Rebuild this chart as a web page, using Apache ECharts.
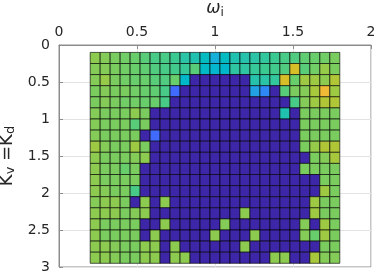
<!DOCTYPE html>
<html><head><meta charset="utf-8">
<script src="https://cdn.jsdelivr.net/npm/echarts@6/dist/echarts.min.js"></script>
<style>html,body{margin:0;padding:0;background:#fff}#c{width:374px;height:274px}</style>
</head><body><div id="c"></div>
<script>
// cell centres
const omega = [0.232,0.296,0.36,0.424,0.488,0.552,0.616,0.68,0.744,0.808,0.872,0.936,1.0,1.064,1.128,1.192,1.256,1.32,1.384,1.448,1.512,1.576,1.64,1.704,1.768];
const kv = [0.175,0.325,0.475,0.625,0.775,0.925,1.075,1.225,1.375,1.525,1.675,1.825,1.975,2.125,2.275,2.425,2.575,2.725,2.875];
const xTicks = ['0','0.5','1','1.5','2'];
const yTicks = ['0','0.5','1','1.5','2','2.5','3'];
// values per row (kv), per column (omega); 0 = dark
const values = [
 [0.68,0.67,0.66,0.65,0.64,0.62,0.60,0.60,0.58,0.54,0.52,0.48,0.42,0.48,0.52,0.53,0.54,0.56,0.58,0.60,0.61,0.63,0.64,0.65,0.66],
 [0.67,0.67,0.66,0.65,0.64,0.63,0.61,0.60,0.59,0.57,0.62,0.47,0.45,0.46,0.55,0.55,0.57,0.58,0.59,0.61,0.77,0.62,0.65,0.69,0.66],
 [0.67,0.69,0.66,0.65,0.64,0.64,0.62,0.61,0.64,0.46,0,0,0,0,0,0,0.53,0.54,0.56,0.77,0.64,0.70,0.70,0.68,0.72],
 [0.66,0.67,0.66,0.66,0.65,0.64,0.63,0.60,0.21,0,0,0,0,0,0,0,0.37,0.29,0,0.62,0.66,0.67,0.71,0.81,0.70],
 [0.66,0.67,0.66,0.65,0.65,0.64,0.64,0.60,0,0,0,0,0,0,0,0,0,0,0,0,0.60,0.67,0.70,0.72,0.72],
 [0.67,0.66,0.66,0.66,0.68,0.66,0,0,0,0,0,0,0,0,0,0,0,0,0,0.52,0,0.66,0.66,0.66,0.66],
 [0.67,0.66,0.66,0.66,0.62,0.66,0,0,0,0,0,0,0,0,0,0,0,0,0,0,0,0.66,0.66,0.66,0.66],
 [0.67,0.66,0.66,0.66,0.66,0,0.21,0,0,0,0,0,0,0,0,0,0,0,0,0,0,0.66,0.66,0.66,0.66],
 [0.70,0.67,0.66,0.66,0.70,0.66,0,0,0,0,0,0,0,0,0,0,0,0,0,0,0,0.66,0.69,0.72,0.72],
 [0.68,0.66,0.66,0.66,0.67,0.68,0,0,0,0,0,0,0,0,0,0,0,0,0,0,0,0,0.66,0.67,0.71],
 [0.68,0.66,0.66,0.64,0.66,0,0,0,0,0,0,0,0,0,0,0,0,0,0,0,0,0.66,0.66,0.66,0.66],
 [0.68,0.66,0.66,0.66,0.66,0,0,0,0,0,0,0,0,0,0,0,0,0,0,0,0,0,0,0.66,0.66],
 [0.68,0.67,0.66,0.66,0.60,0,0,0,0,0,0,0,0,0,0,0,0,0,0,0,0,0,0,0.70,0.66],
 [0.67,0.68,0.68,0.66,0,0.68,0,0.68,0,0,0,0,0,0,0,0,0,0,0,0,0,0,0.70,0.66,0.66],
 [0.68,0.68,0.68,0.66,0.67,0.68,0,0,0,0,0,0,0,0,0,0.68,0,0,0,0,0,0,0.70,0.66,0.66],
 [0.68,0.66,0.66,0.66,0.66,0,0,0.68,0,0,0,0,0,0.67,0,0,0,0,0,0,0,0.67,0,0.70,0.66],
 [0.68,0.66,0.66,0.66,0.66,0,0.68,0,0,0,0,0,0.68,0,0,0,0.68,0,0,0,0,0.67,0.64,0.70,0.66],
 [0.68,0.68,0.67,0.66,0.66,0.68,0.68,0,0.68,0,0,0,0,0,0,0.68,0,0,0,0,0,0,0,0.66,0.66],
 [0.68,0.68,0.67,0.66,0.66,0.68,0.68,0,0.68,0.68,0,0,0,0,0,0,0,0,0.68,0.68,0,0,0.71,0.67,0.67]
];
const parula = [[0.2422,0.1504,0.6603],[0.2504,0.1650,0.7076],[0.2578,0.1818,0.7511],[0.2647,0.1978,0.7952],[0.2706,0.2147,0.8364],[0.2751,0.2342,0.8710],[0.2783,0.2559,0.8991],[0.2803,0.2782,0.9221],[0.2813,0.3006,0.9414],[0.2810,0.3228,0.9579],[0.2795,0.3447,0.9717],[0.2760,0.3667,0.9829],[0.2699,0.3892,0.9906],[0.2602,0.4123,0.9952],[0.2440,0.4358,0.9988],[0.2206,0.4603,0.9973],[0.1963,0.4847,0.9892],[0.1834,0.5074,0.9798],[0.1786,0.5289,0.9682],[0.1764,0.5499,0.9520],[0.1687,0.5703,0.9359],[0.1540,0.5902,0.9218],[0.1460,0.6091,0.9079],[0.1380,0.6276,0.8973],[0.1248,0.6459,0.8883],[0.1113,0.6635,0.8763],[0.0952,0.6798,0.8598],[0.0689,0.6948,0.8394],[0.0297,0.7082,0.8163],[0.0036,0.7203,0.7917],[0.0067,0.7312,0.7660],[0.0433,0.7411,0.7394],[0.0964,0.7500,0.7120],[0.1408,0.7584,0.6842],[0.1717,0.7670,0.6554],[0.1938,0.7758,0.6251],[0.2161,0.7843,0.5923],[0.2470,0.7918,0.5567],[0.2906,0.7973,0.5188],[0.3406,0.8008,0.4789],[0.3909,0.8029,0.4354],[0.4456,0.8024,0.3909],[0.5044,0.7993,0.3480],[0.5616,0.7942,0.3045],[0.6174,0.7876,0.2612],[0.6720,0.7793,0.2227],[0.7242,0.7698,0.1910],[0.7738,0.7598,0.1646],[0.8203,0.7498,0.1535],[0.8634,0.7406,0.1596],[0.9035,0.7330,0.1774],[0.9393,0.7288,0.2100],[0.9728,0.7298,0.2394],[0.9956,0.7434,0.2371],[0.9970,0.7659,0.2199],[0.9952,0.7893,0.2028],[0.9892,0.8136,0.1885],[0.9786,0.8386,0.1766],[0.9676,0.8639,0.1643],[0.9610,0.8890,0.1537],[0.9597,0.9135,0.1423],[0.9628,0.9373,0.1265],[0.9691,0.9606,0.1064],[0.9769,0.9839,0.0805]]
  .map(c => 'rgb(' + c.map(v => Math.round(v*255)).join(',') + ')');

const data = [];
values.forEach((row, r) => row.forEach((v, c) => data.push([omega[c], kv[r], v])));
const halfW = (omega[1] - omega[0]) / 2;
const halfH = (kv[1] - kv[0]) / 2;

const font = 'DejaVu Sans';
const txt = '#262626';
const chart = echarts.init(document.getElementById('c'), null, {renderer: 'canvas'});
chart.setOption({
  animation: false,
  grid: {left: 59, right: 3, top: 45, bottom: 7, containLabel: false, outerBoundsMode: 'none',
         show: true, borderColor: '#8c8c8c', borderWidth: 1},
  visualMap: {show: false, dimension: 2, min: 0, max: 1, inRange: {color: parula}},
  xAxis: {
    type: 'value', position: 'top', min: 0, max: 2, interval: 0.5,
    name: '{w|ω}{s|i}', nameLocation: 'middle', nameGap: 26,
    nameTextStyle: {rich: {
      w: {fontFamily: font, fontSize: 17, fontStyle: 'italic', color: txt, lineHeight: 20, verticalAlign: 'middle'},
      s: {fontFamily: font, fontSize: 12, color: txt, lineHeight: 12, verticalAlign: 'bottom'}
    }},
    axisLine: {show: true, lineStyle: {color: '#8c8c8c'}},
    axisTick: {show: true, inside: true, length: 4, lineStyle: {color: '#8c8c8c'}},
    axisLabel: {fontFamily: font, fontSize: 14, color: txt, margin: 6,
      formatter: v => xTicks[Math.round(v / 0.5)]},
    splitLine: {show: true, lineStyle: {color: '#e3e3e3'}}
  },
  yAxis: {
    type: 'value', inverse: true, min: 0, max: 3, interval: 0.5,
    name: '{a|K}{s|v}{a| =K}{s|d}', nameLocation: 'middle', nameRotate: 90, nameGap: 37,
    nameTextStyle: {rich: {
      a: {fontFamily: font, fontSize: 18, color: txt, lineHeight: 20, verticalAlign: 'middle'},
      s: {fontFamily: font, fontSize: 13, color: txt, lineHeight: 13, verticalAlign: 'bottom'}
    }},
    axisLine: {show: true, lineStyle: {color: '#8c8c8c'}},
    axisTick: {show: true, inside: true, length: 4, lineStyle: {color: '#8c8c8c'}},
    axisLabel: {fontFamily: font, fontSize: 14, color: txt, margin: 9,
      formatter: v => yTicks[Math.round(v / 0.5)]},
    splitLine: {show: true, lineStyle: {color: '#e3e3e3'}}
  },
  series: [{
    type: 'custom',
    data: data,
    encode: {x: 0, y: 1},
    renderItem: function (params, api) {
      const x = api.value(0), y = api.value(1);
      const p0 = api.coord([x - halfW, y - halfH]);
      const p1 = api.coord([x + halfW, y + halfH]);
      return {
        type: 'rect',
        shape: {x: Math.min(p0[0], p1[0]), y: Math.min(p0[1], p1[1]),
                width: Math.abs(p1[0] - p0[0]), height: Math.abs(p1[1] - p0[1])},
        style: {fill: api.visual('color'), stroke: 'rgba(0,0,0,0.8)', lineWidth: 0.8}
      };
    }
  }]
});
</script></body></html>
